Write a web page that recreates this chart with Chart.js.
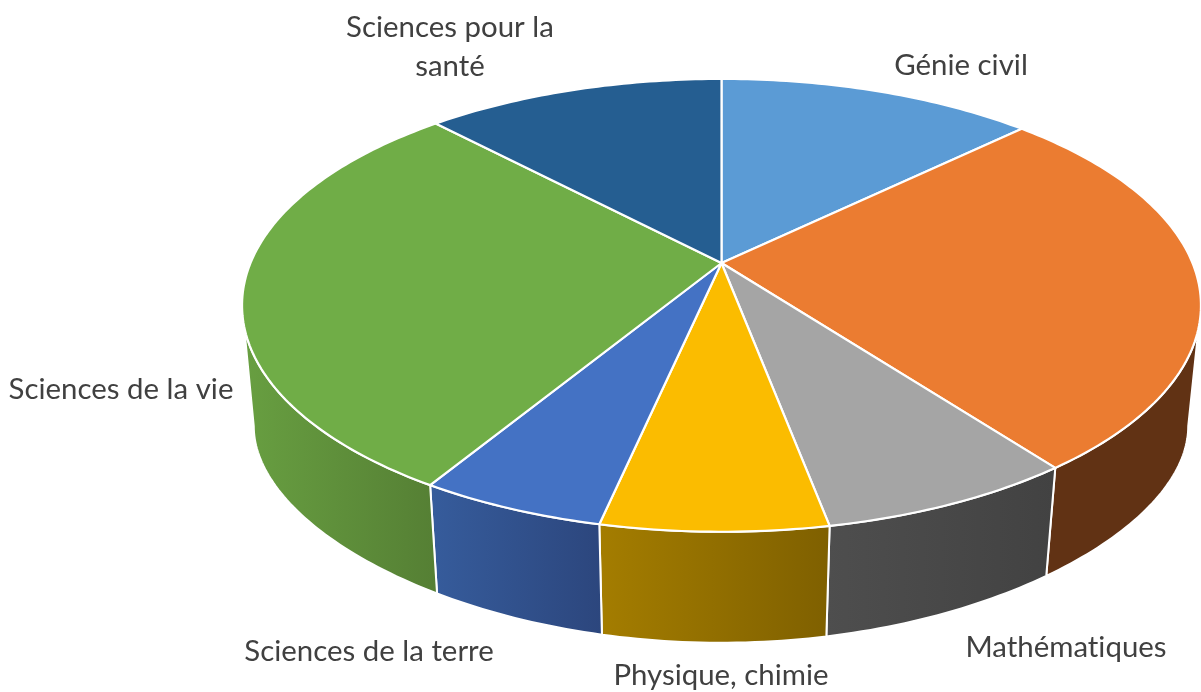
<!DOCTYPE html>
<html>
<head>
<meta charset="utf-8">
<title>Répartition par discipline</title>
<script src="https://cdn.jsdelivr.net/npm/chart.js@4"></script>
<style>
    html, body { margin: 0; background: #fff; }
    #wrap { width: 1201px; height: 692px; }
</style>
</head>
<body>
<div id="wrap"><canvas id="pie3d" width="1201" height="692"></canvas></div>
<script>
'use strict';

// ====== Data ======
// the orange slice has no label in the picture
const categories = ['Génie civil', '', 'Mathématiques', 'Physique, chimie', 'Sciences de la terre', 'Sciences de la vie', 'Sciences pour la santé'];
const shares = [12.8, 26.9, 7.3, 6.4, 5.3, 29.2, 12.1];
const topColors = ['#5b9bd5', '#eb7c31', '#a5a5a5', '#fbbc00', '#4472c4', '#70ad47', '#255e91'];
const wallLeft = ['#2f6ea8', '#613214', '#4e4e4e', '#a47d00', '#365c9c', '#689f41', '#1c4a73'];
const wallRight = ['#2f6ea8', '#613214', '#424242', '#7f6000', '#2c467d', '#557f34', '#1c4a73'];

// ====== Label layout ======
const labelLayout = [
    { slice: 0, x: 961, y: 66 },
    { slice: 2, x: 1066, y: 648 },
    { slice: 3, x: 721, y: 676 },
    { slice: 4, x: 369, y: 652 },
    { slice: 5, x: 121, y: 390 },
    { slice: 6, x: 450, y: 28, wrapAt: 16, lineGap: 39 }
];

// ====== Perspective of the pie disc ======
const top3d = { cx: 721.5, cy: 263, rx: 471, ry: 218.5, k: -0.187 };
const bottom3d = { cx: 721, cy: 391.3, rx: 459, ry: 176, kx: -0.187, ky: -0.3 };
// where the disc is widest, the wall starts there
const wallStart = Math.asin(-top3d.k);

function project(angle) {
    const u = Math.cos(angle), v = Math.sin(angle);
    const d = 1 + top3d.k * v;
    return { x: top3d.cx + top3d.rx * u / d, y: top3d.cy + top3d.ry * v / d };
}

function projectBottom(angle) {
    const u = Math.cos(angle), v = Math.sin(angle);
    return {
        x: bottom3d.cx + bottom3d.rx * u / (1 + bottom3d.kx * v),
        y: bottom3d.cy + bottom3d.ry * v / (1 + bottom3d.ky * v)
    };
}

function arcPoints(fn, a0, a1) {
    const n = Math.max(2, Math.ceil(Math.abs(a1 - a0) * 60));
    const pts = [];
    for (let i = 0; i <= n; i++) pts.push(fn(a0 + (a1 - a0) * i / n));
    return pts;
}

function tracePts(ctx, pts, first) {
    pts.forEach((p, i) => {
        if (i === 0 && first) ctx.moveTo(p.x, p.y);
        else ctx.lineTo(p.x, p.y);
    });
}

const disc3d = {
    id: 'disc3d',
    // the arcs come from the pie controller, only their drawing is replaced
    beforeDatasetDraw(chart, args) {
        const ctx = chart.ctx;
        const arcs = args.meta.data;
        ctx.save();
        ctx.lineJoin = 'round';

        // walls, only the near part of the disc shows one
        arcs.forEach((arc, i) => {
            const a0 = Math.max(arc.startAngle, wallStart);
            const a1 = Math.min(arc.endAngle, Math.PI - wallStart);
            if (a1 <= a0) return;
            const t = arcPoints(project, a0, a1);
            const b = arcPoints(projectBottom, a1, a0);
            const xs = t.concat(b).map(p => p.x);
            const g = ctx.createLinearGradient(Math.min(...xs), 0, Math.max(...xs), 0);
            g.addColorStop(0, wallLeft[i]);
            g.addColorStop(1, wallRight[i]);
            ctx.beginPath();
            tracePts(ctx, t, true);
            tracePts(ctx, b, false);
            ctx.closePath();
            ctx.fillStyle = g;
            ctx.fill();
            ctx.strokeStyle = '#fff';
            ctx.lineWidth = 2;
            ctx.stroke();
        });

        // top face
        arcs.forEach((arc, i) => {
            ctx.beginPath();
            ctx.moveTo(top3d.cx, top3d.cy);
            tracePts(ctx, arcPoints(project, arc.startAngle, arc.endAngle), false);
            ctx.closePath();
            ctx.fillStyle = topColors[i];
            ctx.fill();
            ctx.strokeStyle = '#fff';
            ctx.lineWidth = 2.2;
            ctx.stroke();
        });
        ctx.restore();
        return false;
    },
    afterDatasetsDraw(chart) {
        const ctx = chart.ctx;
        ctx.save();
        ctx.font = '29.4px Lato, sans-serif';
        ctx.letterSpacing = '0.01px'; // stops the "ti" ligature
        ctx.fillStyle = '#404040';
        ctx.textAlign = 'center';
        ctx.textBaseline = 'middle';
        labelLayout.forEach(l => {
            const name = categories[l.slice];
            if (l.wrapAt) {
                ctx.fillText(name.slice(0, l.wrapAt).trim(), l.x, l.y);
                ctx.fillText(name.slice(l.wrapAt).trim(), l.x, l.y + l.lineGap);
            } else {
                ctx.fillText(name, l.x, l.y);
            }
        });
        ctx.restore();
    }
};

new Chart(document.getElementById('pie3d'), {
    type: 'pie',
    data: {
        labels: categories,
        datasets: [{ data: shares, backgroundColor: topColors, borderColor: '#fff' }]
    },
    options: {
        responsive: false,
        animation: false,
        plugins: {
            legend: { display: false },
            tooltip: { enabled: false }
        }
    },
    plugins: [disc3d]
});
</script>
</body>
</html>
